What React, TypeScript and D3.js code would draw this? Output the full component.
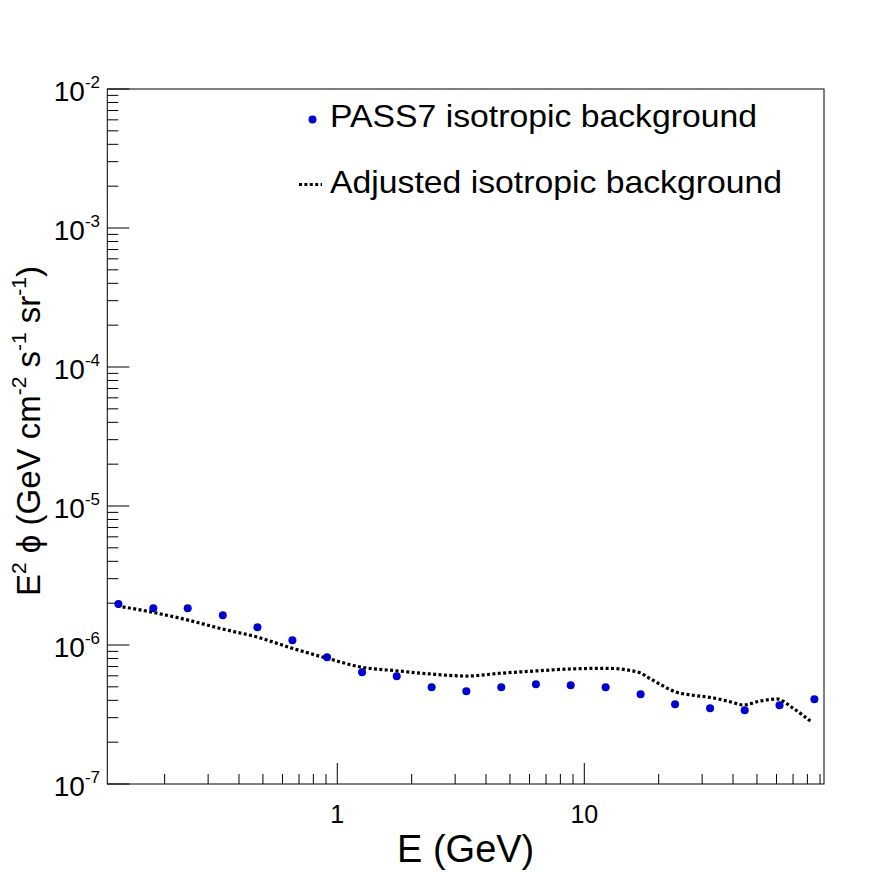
import React from "react";
import * as d3 from "d3";

// PASS7 isotropic background points (E in GeV, E^2 phi)
const pass7E = [
	0.130, 0.180, 0.248, 0.344, 0.475, 0.658, 0.909, 1.26, 1.74, 2.41, 3.33,
	4.61, 6.37, 8.81, 12.2, 16.9, 23.3, 32.3, 44.6, 61.7, 85.4,
];
const pass7Flux = [
	1.97e-6, 1.84e-6, 1.84e-6, 1.64e-6, 1.34e-6, 1.08e-6, 8.16e-7, 6.36e-7,
	5.96e-7, 4.96e-7, 4.64e-7, 4.96e-7, 5.22e-7, 5.13e-7, 4.96e-7, 4.42e-7,
	3.75e-7, 3.5e-7, 3.39e-7, 3.68e-7, 4.07e-7,
];

// Adjusted isotropic background curve
const adjE = [
	0.1286, 0.179, 0.249, 0.3455, 0.4745, 0.657, 0.911, 1.262, 1.729, 2.373,
	3.342, 4.557, 6.315, 8.753, 12.32, 16.81, 17.89, 20.25, 23.29, 27.55, 32.27,
	38.9, 44.03, 51.44, 60.11, 70.19, 82.76,
];
const adjFlux = [
	1.91e-6, 1.72e-6, 1.51e-6, 1.3e-6, 1.14e-6, 9.47e-7, 8.02e-7, 6.91e-7,
	6.53e-7, 6.19e-7, 5.98e-7, 6.26e-7, 6.5e-7, 6.72e-7, 6.8e-7, 6.32e-7,
	5.92e-7, 5.22e-7, 4.61e-7, 4.35e-7, 4.2e-7, 3.91e-7, 3.7e-7, 3.95e-7,
	4.09e-7, 3.5e-7, 2.81e-7,
];

const xMajorTicks = [1, 10];
const xTickLabels = ["1", "10"];
const yDecades = [-7, -6, -5, -4, -3, -2];

const legendLabels = ["PASS7 isotropic background", "Adjusted isotropic background"];

const font = "'Liberation Sans', Arial, Helvetica, sans-serif";
const blue = "#0000d0";

export default function App() {
	const width = 896;
	const height = 872;
	const left = 107.3;
	const right = 824;
	const top = 89;
	const bottom = 784;

	const x = d3.scaleLog().domain([0.1172, 93.4]).range([left, right]);
	const y = d3.scaleLog().domain([1e-7, 1e-2]).range([bottom, top]);

	// minor ticks 2..9 per decade, inside domain
	const xMinor: number[] = [];
	for (const dec of [0.1, 1, 10]) {
		for (let k = 2; k <= 9; k++) {
			const v = k * dec;
			if (v > 0.1172 && v < 93.4) xMinor.push(v);
		}
	}
	const yMinor: number[] = [];
	for (const d of yDecades.slice(0, -1)) {
		for (let k = 2; k <= 9; k++) yMinor.push(k * Math.pow(10, d));
	}

	const line = d3
		.line<number>()
		.x((_, i) => x(adjE[i]))
		.y((d) => y(d))
		.curve(d3.curveMonotoneX);

	return (
		<svg
			width={width}
			height={height}
			style={{ position: "absolute", left: 0, top: 0, background: "#fff" }}
			fontFamily={font}
		>
			<rect x={0} y={0} width={width} height={height} fill="#fff" />

			{/* frame */}
			<rect
				x={left}
				y={top}
				width={right - left}
				height={bottom - top}
				fill="none"
				stroke="#000"
				strokeWidth={1}
			/>

			{/* x-axis ticks */}
			<g stroke="#000" strokeWidth={1}>
				{xMinor.map((t) => (
					<line key={"xm" + t} x1={x(t)} x2={x(t)} y1={bottom} y2={bottom - 10} />
				))}
				{xMajorTicks.map((t) => (
					<line key={"xM" + t} x1={x(t)} x2={x(t)} y1={bottom} y2={bottom - 21} />
				))}
			</g>
			{xMajorTicks.map((t, i) => (
				<text
					key={"xl" + t}
					x={x(t)}
					y={823}
					fontSize={25}
					textAnchor="middle"
					fill="#000"
				>
					{xTickLabels[i]}
				</text>
			))}

			{/* y-axis ticks */}
			<g stroke="#000" strokeWidth={1}>
				{yMinor.map((t) => (
					<line key={"ym" + t} x1={left} x2={left + 11} y1={y(t)} y2={y(t)} />
				))}
				{yDecades.map((d) => (
					<line
						key={"yM" + d}
						x1={left}
						x2={left + 22}
						y1={y(Math.pow(10, d))}
						y2={y(Math.pow(10, d))}
					/>
				))}
			</g>
			{yDecades.map((d) => (
				<text
					key={"yl" + d}
					x={100}
					y={y(Math.pow(10, d)) + 12}
					fontSize={28}
					textAnchor="end"
					fill="#000"
				>
					10
					<tspan fontSize={17} dy={-13}>
						{String(d)}
					</tspan>
				</text>
			))}

			{/* axis titles */}
			<text x={(left + right) / 2} y={862} fontSize={38} textAnchor="middle" fill="#000">
				E (GeV)
			</text>
			<text
				transform="translate(40, 431) rotate(-90)"
				fontSize={33}
				textAnchor="middle"
				fill="#000"
			>
				E<tspan fontSize={21} dy={-14}>2</tspan>
				<tspan dy={14}> ϕ (GeV cm</tspan>
				<tspan fontSize={21} dy={-14}>-2</tspan>
				<tspan dy={14}> s</tspan>
				<tspan fontSize={21} dy={-14}>-1</tspan>
				<tspan dy={14}> sr</tspan>
				<tspan fontSize={21} dy={-14}>-1</tspan>
				<tspan dy={14}>)</tspan>
			</text>

			{/* adjusted curve */}
			<path
				d={line(adjFlux) || undefined}
				fill="none"
				stroke="#000"
				strokeWidth={3.2}
				strokeDasharray="3 2.4"
			/>

			{/* PASS7 points */}
			<g fill={blue}>
				{pass7Flux.map((v, i) => (
					<circle key={i} cx={x(pass7E[i])} cy={y(v)} r={4} />
				))}
			</g>

			{/* legend */}
			<circle cx={312.5} cy={119.5} r={4} fill={blue} />
			<text
				x={330}
				y={127}
				fontSize={32}
				fill="#000"
				textLength={427}
				lengthAdjust="spacingAndGlyphs"
			>
				{legendLabels[0]}
			</text>
			<line
				x1={299}
				x2={322}
				y1={184.5}
				y2={184.5}
				stroke="#000"
				strokeWidth={3.2}
				strokeDasharray="3 2.4"
			/>
			<text
				x={330}
				y={193}
				fontSize={32}
				fill="#000"
				textLength={452}
				lengthAdjust="spacingAndGlyphs"
			>
				{legendLabels[1]}
			</text>
		</svg>
	);
}
